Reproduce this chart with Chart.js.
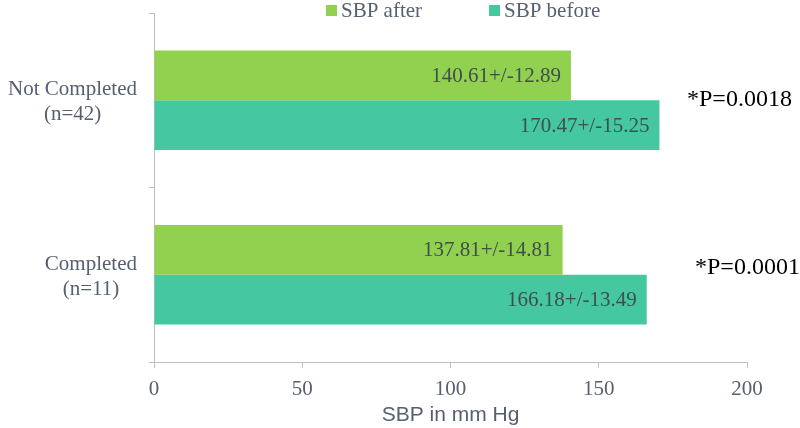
<!DOCTYPE html>
<html>
<head>
<meta charset="utf-8">
<script src="https://cdn.jsdelivr.net/npm/chart.js@4"></script>
<style>
  html, body { margin: 0; padding: 0; background: #fff; }
  #wrap { width: 800px; height: 428px; }
</style>
</head>
<body>
<div id="wrap"><canvas id="sbpChart"></canvas></div>
<script>
const categories = [["Not Completed", "(n=42)"], ["Completed", "(n=11)"]];
const sbpAfter = [140.61, 137.81];
const sbpAfterSd = [12.89, 14.81];
const sbpBefore = [170.47, 166.18];
const sbpBeforeSd = [15.25, 13.49];
const pValues = ["*P=0.0018", "*P=0.0001"];
const xTicks = [0, 50, 100, 150, 200];

const textColor = "#56606f";
const axisColor = "#bfbfbf";
const serif = "'Liberation Serif', 'Times New Roman', serif";

// value labels inside bars, category labels, p-values and the legend
const extrasPlugin = {
  id: "extras",
  afterDatasetsDraw(chart) {
    const ctx = chart.ctx;
    const sds = [sbpAfterSd, sbpBeforeSd];
    ctx.save();
    ctx.font = "21px " + serif;
    ctx.fillStyle = "#3e4f4c";
    ctx.textAlign = "right";
    ctx.textBaseline = "middle";
    chart.data.datasets.forEach((ds, i) => {
      chart.getDatasetMeta(i).data.forEach((bar, j) => {
        ctx.fillText(ds.data[j].toFixed(2) + "+/-" + sds[i][j].toFixed(2), bar.x - 10, bar.y + 1);
      });
    });

    // category labels: block right aligned, lines centred in the block
    const y = chart.scales.y;
    ctx.fillStyle = textColor;
    ctx.textAlign = "center";
    categories.forEach((lines, j) => {
      const widest = Math.max(...lines.map((l) => ctx.measureText(l).width));
      const cx = y.right - 17 - widest / 2;
      const cy = y.getPixelForValue(j) + 2;
      lines.forEach((l, k) => {
        ctx.fillText(l, cx, cy + (k - (lines.length - 1) / 2) * 25);
      });
    });

    // p-values
    ctx.font = "24px " + serif;
    ctx.fillStyle = "#000";
    ctx.textAlign = "left";
    ctx.fillText(pValues[0], chart.chartArea.right - 60, y.getPixelForValue(0) - 1);
    ctx.fillText(pValues[1], chart.chartArea.right - 52, y.getPixelForValue(1) - 7);

    // legend
    const items = [[0, 326], [1, 489]];
    ctx.font = "21px " + serif;
    items.forEach(([i, x]) => {
      const ds = chart.data.datasets[i];
      ctx.fillStyle = ds.backgroundColor;
      ctx.fillRect(x, 5, 11, 11);
      ctx.fillStyle = textColor;
      ctx.fillText(ds.label, x + 15, 11);
    });
    ctx.restore();
  },
};

const ctx = document.getElementById("sbpChart").getContext("2d");
new Chart(ctx, {
  type: "bar",
  data: {
    labels: categories,
    datasets: [
      {
        label: "SBP after",
        data: sbpAfter,
        backgroundColor: "#92d050",
        barPercentage: 1,
        categoryPercentage: 0.571,
      },
      {
        label: "SBP before",
        data: sbpBefore,
        backgroundColor: "#45c8a0",
        barPercentage: 1,
        categoryPercentage: 0.571,
      },
    ],
  },
  options: {
    indexAxis: "y",
    responsive: true,
    maintainAspectRatio: false,
    animation: false,
    layout: {
      padding: { left: 0, right: 53, top: 13, bottom: 0 },
    },
    scales: {
      x: {
        min: 0,
        max: 200,
        afterBuildTicks(scale) {
          scale.ticks = xTicks.map((v) => ({ value: v }));
        },
        afterFit(scale) {
          scale.height = 66;
          scale.paddingLeft = 0;
          scale.paddingRight = 0;
        },
        grid: {
          drawOnChartArea: false,
          color: axisColor,
          tickLength: 6,
        },
        border: { color: axisColor },
        ticks: {
          color: textColor,
          padding: 9,
          font: { family: serif, size: 21 },
        },
        title: {
          display: true,
          text: "SBP in mm Hg",
          color: textColor,
          padding: { top: 0, bottom: 0 },
          font: { family: "'Liberation Sans', Arial, sans-serif", size: 21 },
        },
      },
      y: {
        afterFit(scale) {
          scale.width = 154;
          scale.paddingTop = 0;
          scale.paddingBottom = 0;
        },
        grid: {
          drawOnChartArea: false,
          color: axisColor,
          tickLength: 5,
        },
        border: { color: axisColor },
        ticks: {
          display: false,
        },
      },
    },
    plugins: {
      legend: { display: false },
      tooltip: { enabled: false },
    },
  },
  plugins: [extrasPlugin],
});
</script>
</body>
</html>
